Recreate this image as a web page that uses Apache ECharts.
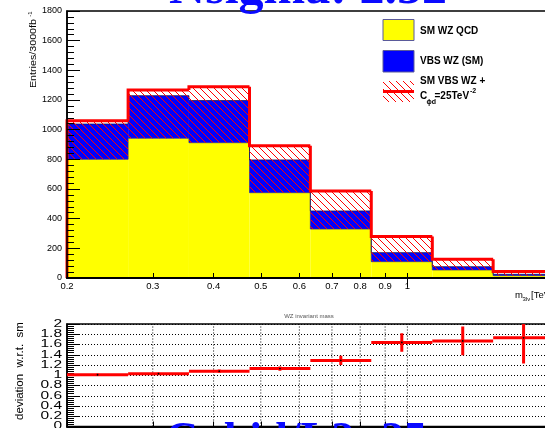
<!DOCTYPE html>
<html>
<head>
<meta charset="utf-8">
<script src="https://cdn.jsdelivr.net/npm/echarts@6/dist/echarts.min.js"></script>
<style>
  html, body { margin: 0; padding: 0; background: #fff; }
  #chart { width: 545px; height: 428px; }
</style>
</head>
<body>
<div id="chart"></div>
<script>
// m_3lv bin edges in TeV (8 bins, uniform in log10)
const binEdges = [0.2, 0.267, 0.356, 0.474, 0.632, 0.843, 1.125, 1.5, 2.0];
// expected entries per bin for 3000 fb^-1
const qcdWZ  = [800, 942, 912, 575, 330, 110, 54, 16];
const vbsSM  = [238, 287, 284, 221, 122, 61, 22, 9];
const vbsEFT = [260, 326, 378, 317, 257, 169, 72, 27];
// ratio of (QCD + VBS with C_phid) to (QCD + VBS SM), with uncertainty
const ratio    = [1.01, 1.03, 1.08, 1.13, 1.29, 1.64, 1.67, 1.73];
const ratioErr = [0.02, 0.02, 0.03, 0.04, 0.09, 0.18, 0.28, 0.50];
// axis ticks
const xTicks      = [0.2, 0.3, 0.4, 0.5, 0.6, 0.7, 0.8, 0.9, 1];
const xTickLabels = ['0.2', '0.3', '0.4', '0.5', '0.6', '0.7', '0.8', '0.9', '1'];
const ratioTicks      = [0, 0.2, 0.4, 0.6, 0.8, 1, 1.2, 1.4, 1.6, 1.8, 2];
const ratioTickLabels = ['0', '0.2', '0.4', '0.6', '0.8', '1', '1.2', '1.4', '1.6', '1.8', '2'];
const legendNames = ['SM WZ QCD', 'VBS WZ (SM)', 'SM VBS WZ +'];

const L = v => Math.log10(v);
const xMin = L(binEdges[0]);
const xMax = L(binEdges[binEdges.length - 1]);
const xTickLogs = xTicks.map(L);
const fmtX = v => {
  const i = xTickLogs.findIndex(t => Math.abs(t - v) < 1e-6);
  return i >= 0 ? xTickLabels[i] : '';
};

// red diagonal hatching used for the EFT component
function hatchPattern() {
  const s = 7;
  const c = document.createElement('canvas');
  c.width = s; c.height = s;
  const g = c.getContext('2d');
  g.strokeStyle = '#ff0000';
  g.lineWidth = 1;
  g.beginPath();
  g.moveTo(-1, -1); g.lineTo(s + 1, s + 1);
  g.moveTo(-1, s - 1); g.lineTo(1, s + 1);
  g.moveTo(s - 1, -1); g.lineTo(s + 1, 1);
  g.stroke();
  return c;
}
const hatch = { image: hatchPattern(), repeat: 'repeat' };

// per-bin rectangles [x0, x1, low, high] in log10(TeV)
const qcdRects = qcdWZ.map((v, i) => [L(binEdges[i]), L(binEdges[i + 1]), 0, v]);
const smRects  = qcdWZ.map((v, i) => [L(binEdges[i]), L(binEdges[i + 1]), v, v + vbsSM[i]]);
const effRects = qcdWZ.map((v, i) => [L(binEdges[i]), L(binEdges[i + 1]), v, v + vbsEFT[i]]);

// step outlines [x0, x1, previous height, height, last flag]
function stepData(heights) {
  return heights.map((h, i) => [L(binEdges[i]), L(binEdges[i + 1]), i === 0 ? 0 : heights[i - 1], h, i === heights.length - 1 ? 1 : 0]);
}
const qcdTop = qcdWZ.slice();
const smTop  = qcdWZ.map((v, i) => v + vbsSM[i]);
const effTop = qcdWZ.map((v, i) => v + vbsEFT[i]);

const ratioData = ratio.map((r, i) => [L(binEdges[i]), L(binEdges[i + 1]), r, ratioErr[i]]);

function rectRenderer(fill) {
  return function (params, api) {
    const p0 = api.coord([api.value(0), api.value(3)]);
    const p1 = api.coord([api.value(1), api.value(2)]);
    return {
      type: 'rect',
      shape: { x: p0[0], y: p0[1], width: p1[0] - p0[0], height: p1[1] - p0[1] },
      style: { fill: fill }
    };
  };
}
function stepRenderer(color, width) {
  return function (params, api) {
    const x0 = api.value(0), x1 = api.value(1), prev = api.value(2), h = api.value(3), last = api.value(4);
    const pts = [api.coord([x0, prev]), api.coord([x0, h]), api.coord([x1, h])];
    if (last) pts.push(api.coord([x1, 0]));
    return {
      type: 'polyline',
      shape: { points: pts },
      style: { stroke: color, lineWidth: width, fill: null, lineJoin: 'miter' }
    };
  };
}

const dataDims = { x: [0, 1], y: [2, 3] };

const chart = echarts.init(document.getElementById('chart'), null, { renderer: 'canvas', width: 545, height: 428 });

const option = {
  animation: false,
  backgroundColor: '#ffffff',
  grid: [
    { left: 67, top: 11, width: 487, height: 267, show: true, borderColor: '#000', borderWidth: 1.5, backgroundColor: 'rgba(0,0,0,0)', outerBoundsMode: 'none', containLabel: false },
    { left: 67, top: 324, width: 487, height: 102.5, show: true, borderColor: '#000', borderWidth: 1.5, backgroundColor: 'rgba(0,0,0,0)', outerBoundsMode: 'none', containLabel: false }
  ],
  xAxis: [
    {
      gridIndex: 0, type: 'value', min: xMin, max: xMax, z: 10,
      axisLine: { show: true, onZero: false, lineStyle: { color: '#000', width: 2 } },
      axisTick: { show: true, inside: true, length: 5, customValues: xTickLogs, lineStyle: { color: '#000', width: 1 } },
      axisLabel: { show: true, customValues: xTickLogs, formatter: fmtX, margin: 3, fontSize: 9.5, fontFamily: 'Liberation Sans', color: '#000', showMinLabel: true, showMaxLabel: true },
      splitLine: { show: false }
    },
    {
      gridIndex: 0, type: 'value', min: xMin, max: xMax, z: 10,
      axisLine: { show: false },
      axisTick: { show: true, inside: true, length: 9, customValues: [0], lineStyle: { color: '#000', width: 1 } },
      axisLabel: { show: false },
      splitLine: { show: false }
    },
    {
      gridIndex: 1, type: 'value', min: xMin, max: xMax,
      axisLine: { show: true, onZero: false, lineStyle: { color: '#000', width: 2 } },
      axisTick: { show: true, inside: true, length: 5, customValues: xTickLogs, lineStyle: { color: '#000', width: 1 } },
      axisLabel: { show: false },
      splitLine: { show: false }
    }
  ],
  yAxis: [
    {
      gridIndex: 0, type: 'value', min: 0, max: 1800, interval: 200, z: 10,
      axisLine: { show: true, onZero: false, lineStyle: { color: '#000', width: 1.5 } },
      axisTick: { show: true, inside: true, length: 13, lineStyle: { color: '#000', width: 1 } },
      minorTick: { show: true, splitNumber: 5, length: 7, lineStyle: { color: '#000', width: 1 } },
      axisLabel: { show: true, margin: 5, fontSize: 9, fontFamily: 'Liberation Sans', color: '#000', formatter: v => String(v) },
      splitLine: { show: false }
    },
    {
      gridIndex: 1, type: 'value', min: 0, max: 2, interval: 0.2,
      axisLine: { show: true, onZero: false, lineStyle: { color: '#000', width: 1.5 } },
      axisTick: { show: true, inside: true, length: 13, lineStyle: { color: '#000', width: 1 } },
      minorTick: { show: true, splitNumber: 5, length: 7, lineStyle: { color: '#000', width: 1 } },
      axisLabel: { show: false },
      splitLine: { show: true, lineStyle: { color: '#000', width: 1, type: [1, 2] } }
    }
  ],
  series: [
    { name: legendNames[0], type: 'custom', xAxisIndex: 0, yAxisIndex: 0, encode: dataDims, data: qcdRects, renderItem: rectRenderer('#ffff00'), z: 2 },
    { name: legendNames[1], type: 'custom', xAxisIndex: 0, yAxisIndex: 0, encode: dataDims, data: smRects, renderItem: rectRenderer('#0000ff'), z: 3 },
    { name: 'qcd outline', type: 'custom', xAxisIndex: 0, yAxisIndex: 0, encode: dataDims, data: stepData(qcdTop), renderItem: stepRenderer('rgba(50,50,120,0.7)', 1), z: 4 },
    { name: 'sm outline', type: 'custom', xAxisIndex: 0, yAxisIndex: 0, encode: dataDims, data: stepData(smTop), renderItem: stepRenderer('rgba(20,20,90,0.8)', 1), z: 4 },
    { name: legendNames[2], type: 'custom', xAxisIndex: 0, yAxisIndex: 0, encode: dataDims, data: effRects, renderItem: rectRenderer(hatch), z: 5 },
    { name: 'eft outline', type: 'custom', xAxisIndex: 0, yAxisIndex: 0, encode: dataDims, data: stepData(effTop), renderItem: stepRenderer('#ff0000', 3), z: 6 },
    {
      // dotted vertical grid of the ratio panel at the x tick values
      name: 'ratio x grid', type: 'custom', xAxisIndex: 2, yAxisIndex: 1, silent: true, z: 1,
      data: xTickLogs.slice(1).map(v => [v]),
      renderItem: function (params, api) {
        const a = api.coord([api.value(0), 0]), b = api.coord([api.value(0), 2]);
        return { type: 'line', shape: { x1: a[0], y1: a[1], x2: b[0], y2: b[1] }, style: { stroke: '#000', lineWidth: 1, lineDash: [1, 2] } };
      }
    },
    {
      name: 'ratio', type: 'custom', xAxisIndex: 2, yAxisIndex: 1, encode: { x: [0, 1], y: 2 }, data: ratioData, clip: true, z: 5,
      renderItem: function (params, api) {
        const x0 = api.value(0), x1 = api.value(1), r = api.value(2), e = api.value(3);
        const xc = (x0 + x1) / 2;
        const a = api.coord([x0, r]), b = api.coord([x1, r]);
        const lo = api.coord([xc, r - e]), hi = api.coord([xc, r + e]);
        const c = api.coord([xc, r]);
        return {
          type: 'group',
          children: [
            { type: 'line', shape: { x1: a[0], y1: a[1], x2: b[0], y2: b[1] }, style: { stroke: '#ff0000', lineWidth: 3 } },
            { type: 'line', shape: { x1: lo[0], y1: lo[1], x2: hi[0], y2: hi[1] }, style: { stroke: '#ff0000', lineWidth: 3 } },
            { type: 'circle', shape: { cx: c[0], cy: c[1], r: 0.9 }, style: { fill: '#000' } }
          ]
        };
      }
    },
    {
      name: 'ratio tick labels', type: 'custom', xAxisIndex: 2, yAxisIndex: 1, clip: false, silent: true, z: 5,
      data: ratioTicks.map(v => [xMin, v]),
      renderItem: function (params, api) {
        const p = api.coord([api.value(0), api.value(1)]);
        return {
          type: 'text', x: p[0] - 5, y: p[1], scaleX: 1.55,
          style: { text: ratioTickLabels[params.dataIndex], align: 'right', verticalAlign: 'middle', font: '10px "Liberation Sans"', fill: '#000' }
        };
      }
    }
  ],
  graphic: [
    // large overlay labels
    { type: 'text', x: 308, y: -10, z: 20, style: { text: 'Nsigma: 2.52', align: 'center', verticalAlign: 'middle', font: 'bold 50px "Liberation Serif"', fill: '#0a0aff' } },
    { type: 'text', x: 296, y: 442, z: 20, style: { text: 'Cphid/L2: 25', align: 'center', verticalAlign: 'middle', font: 'bold 46px "Liberation Serif"', fill: '#0a0aff' } },
    // axis titles
    { type: 'text', x: 34, y: 19, rotation: Math.PI / 2, scaleX: 1.26, z: 20, style: { text: 'Entries/3000fb', align: 'right', verticalAlign: 'middle', font: '8.5px "Liberation Sans"', fill: '#000' } },
    { type: 'text', x: 30.5, y: 11.5, rotation: Math.PI / 2, z: 20, style: { text: '-1', align: 'right', verticalAlign: 'middle', font: '6px "Liberation Sans"', fill: '#000' } },
    { type: 'text', x: 515, y: 295, z: 20, style: { text: 'm', align: 'left', verticalAlign: 'middle', font: '9.5px "Liberation Sans"', fill: '#000' } },
    { type: 'text', x: 522.5, y: 299, z: 20, style: { text: '3lν', align: 'left', verticalAlign: 'middle', font: '6px "Liberation Sans"', fill: '#000' } },
    { type: 'text', x: 531, y: 295, z: 20, style: { text: '[TeV]', align: 'left', verticalAlign: 'middle', font: '9.5px "Liberation Sans"', fill: '#000' } },
    { type: 'text', x: 20, y: 371, rotation: Math.PI / 2, z: 20, style: { text: 'deviation  w.r.t.  sm', align: 'center', verticalAlign: 'middle', font: '11.5px "Liberation Sans"', fill: '#000' } },
    { type: 'text', x: 309, y: 316, z: 20, style: { text: 'WZ invariant mass', align: 'center', verticalAlign: 'middle', font: '6px "Liberation Sans"', fill: '#555' } },
    // legend
    { type: 'rect', z: 20, shape: { x: 383, y: 19.5, width: 31, height: 21 }, style: { fill: '#ffff00', stroke: '#5a5a9a', lineWidth: 1 } },
    { type: 'text', x: 420, y: 31, z: 20, style: { text: legendNames[0], align: 'left', verticalAlign: 'middle', font: 'bold 10px "Liberation Sans"', fill: '#000' } },
    { type: 'rect', z: 20, shape: { x: 383, y: 50.5, width: 31, height: 21.5 }, style: { fill: '#0000ff', stroke: '#5a5a9a', lineWidth: 1 } },
    { type: 'text', x: 420, y: 61.5, z: 20, style: { text: legendNames[1], align: 'left', verticalAlign: 'middle', font: 'bold 10px "Liberation Sans"', fill: '#000' } },
    { type: 'rect', z: 20, shape: { x: 383, y: 81, width: 31, height: 21 }, style: { fill: hatch } },
    { type: 'line', z: 21, shape: { x1: 383, y1: 91.5, x2: 414, y2: 91.5 }, style: { stroke: '#ff0000', lineWidth: 3 } },
    { type: 'text', x: 420, y: 81.5, z: 20, style: { text: legendNames[2], align: 'left', verticalAlign: 'middle', font: 'bold 10px "Liberation Sans"', fill: '#000' } },
    { type: 'text', x: 420, y: 96.5, z: 20, style: { text: 'C', align: 'left', verticalAlign: 'middle', font: 'bold 10px "Liberation Sans"', fill: '#000' } },
    { type: 'text', x: 426.5, y: 102, z: 20, style: { text: 'ϕd', align: 'left', verticalAlign: 'middle', font: 'bold 7px "Liberation Sans"', fill: '#000' } },
    { type: 'text', x: 434.5, y: 96.5, z: 20, style: { text: '=25TeV', align: 'left', verticalAlign: 'middle', font: 'bold 10px "Liberation Sans"', fill: '#000' } },
    { type: 'text', x: 470, y: 91.5, z: 20, style: { text: '-2', align: 'left', verticalAlign: 'middle', font: 'bold 7px "Liberation Sans"', fill: '#000' } }
  ]
};

chart.setOption(option);
</script>
</body>
</html>
